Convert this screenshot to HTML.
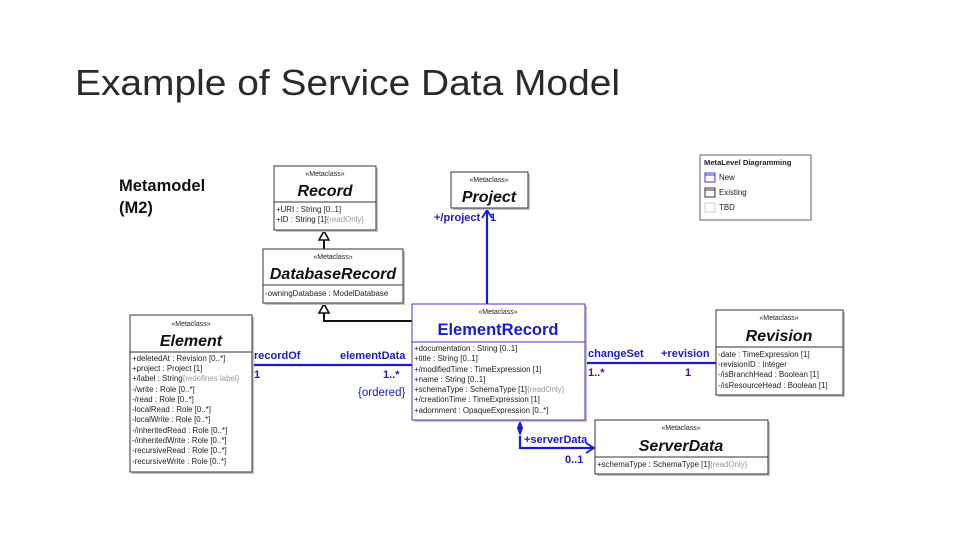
<!DOCTYPE html>
<html><head><meta charset="utf-8"><style>
html,body{margin:0;padding:0;background:#fff;}
svg{display:block;font-family:"Liberation Sans",Arial,sans-serif;}
.st{font-size:7px;text-anchor:middle;fill:#222}
.nm{font-size:16px;font-weight:bold;font-style:italic;text-anchor:middle;fill:#111}
.at{font-size:7.9px;fill:#222}
.g{fill:#999}
.bl{fill:#1a1ad0;font-weight:bold;font-size:11px}
.box{fill:#fff;stroke:#333;stroke-width:1}
.shadow{fill:#c4c4c4}
</style></head><body>
<svg width="960" height="540" viewBox="0 0 960 540">
<text x="75" y="95" font-size="36" textLength="545" lengthAdjust="spacingAndGlyphs" fill="#2a2a2a">Example of Service Data Model</text>

<text x="119" y="191" font-size="16.5" font-weight="bold" fill="#111">Metamodel</text>
<text x="119" y="213" font-size="16.5" font-weight="bold" fill="#111">(M2)</text>

<!-- connectors -->
<line x1="324" y1="240" x2="324" y2="249" stroke="#111" stroke-width="2"/>
<polygon points="324,231 319,240 329,240" fill="#fff" stroke="#111" stroke-width="1.6"/>
<polyline points="324,313 324,321 412,321" fill="none" stroke="#111" stroke-width="2"/>
<polygon points="324,304 319,313 329,313" fill="#fff" stroke="#111" stroke-width="1.6"/>
<line x1="487" y1="304" x2="487" y2="211" stroke="#1a1ad0" stroke-width="2.2"/>
<polyline points="482,218 487,210 492,218" fill="none" stroke="#1a1ad0" stroke-width="1.8"/>
<line x1="252" y1="365" x2="412" y2="365" stroke="#1a1ad0" stroke-width="2.2"/>
<line x1="585" y1="363" x2="716" y2="363" stroke="#1a1ad0" stroke-width="2.2"/>
<polygon points="520,420 523,428 520,436 517,428" fill="#1a1ad0"/>
<polyline points="520,436 520,448 594,448" fill="none" stroke="#1a1ad0" stroke-width="2.2"/>
<polyline points="586,443 594,448 586,453" fill="none" stroke="#1a1ad0" stroke-width="1.8"/>

<text class="bl" x="434" y="221">+/project</text><text class="bl" x="490" y="221">1</text>
<text class="bl" x="254" y="359">recordOf</text>
<text class="bl" x="254" y="378">1</text>
<text class="bl" x="340" y="359">elementData</text>
<text class="bl" x="383" y="378">1..*</text>
<text x="358" y="396" font-size="11.5" fill="#1a1ad0">{ordered}</text>
<text class="bl" x="588" y="357">changeSet</text>
<text class="bl" x="588" y="376">1..*</text>
<text class="bl" x="661" y="357">+revision</text>
<text class="bl" x="685" y="376">1</text>
<text class="bl" x="524" y="443">+serverData</text>
<text class="bl" x="565" y="463">0..1</text>

<!-- Record -->
<rect class="shadow" x="276" y="168" width="102" height="64"/>
<rect class="box" x="274" y="166" width="102" height="64"/>
<line x1="274" y1="202" x2="376" y2="202" stroke="#333"/>
<text class="st" x="325" y="176">«Metaclass»</text>
<text class="nm" x="325" y="196">Record</text>
<text class="at" x="276" y="212">+URI : String [0..1]</text>
<text class="at" x="276" y="222">+ID : String [1]<tspan class="g">{readOnly}</tspan></text>

<!-- Project -->
<rect class="shadow" x="453" y="174" width="77" height="36"/>
<rect class="box" x="451" y="172" width="77" height="36"/>
<text class="st" x="489" y="182">«Metaclass»</text>
<text class="nm" x="489" y="202">Project</text>

<!-- DatabaseRecord -->
<rect class="shadow" x="265" y="251" width="140" height="54"/>
<rect class="box" x="263" y="249" width="140" height="54"/>
<line x1="263" y1="285" x2="403" y2="285" stroke="#333"/>
<text class="st" x="333" y="259">«Metaclass»</text>
<text class="nm" x="333" y="279">DatabaseRecord</text>
<text class="at" x="265" y="296">-owningDatabase : ModelDatabase</text>

<!-- Element -->
<rect class="shadow" x="132" y="317" width="122" height="157"/>
<rect class="box" x="130" y="315" width="122" height="157"/>
<line x1="130" y1="352" x2="252" y2="352" stroke="#333"/>
<text class="st" x="191" y="326">«Metaclass»</text>
<text class="nm" x="191" y="346">Element</text>
<g class="at">
<text x="132" y="361">+deletedAt : Revision [0..*]</text>
<text x="132" y="371">+project : Project [1]</text>
<text x="132" y="381">+/label : String<tspan class="g">{redefines label}</tspan></text>
<text x="132" y="392">-/write : Role [0..*]</text>
<text x="132" y="402">-/read : Role [0..*]</text>
<text x="132" y="412">-localRead : Role [0..*]</text>
<text x="132" y="422">-localWrite : Role [0..*]</text>
<text x="132" y="433">-/inheritedRead : Role [0..*]</text>
<text x="132" y="443">-/inheritedWrite : Role [0..*]</text>
<text x="132" y="453">-recursiveRead : Role [0..*]</text>
<text x="132" y="464">-recursiveWrite : Role [0..*]</text>
</g>

<!-- ElementRecord -->
<rect class="shadow" x="414" y="306" width="173" height="116"/>
<rect x="412" y="304" width="173" height="116" fill="#fff" stroke="#3a3ad0" stroke-width="1"/>
<line x1="412" y1="342" x2="585" y2="342" stroke="#3a3ad0"/>
<text class="st" x="498" y="314">«Metaclass»</text>
<text x="498" y="335" font-size="16.5" font-weight="bold" text-anchor="middle" fill="#1a1ad0">ElementRecord</text>
<g class="at">
<text x="414" y="351">+documentation : String [0..1]</text>
<text x="414" y="361">+title : String [0..1]</text>
<text x="414" y="372">+/modifiedTime : TimeExpression [1]</text>
<text x="414" y="382">+name : String [0..1]</text>
<text x="414" y="392">+schemaType : SchemaType [1]<tspan class="g">{readOnly}</tspan></text>
<text x="414" y="402">+/creationTime : TimeExpression [1]</text>
<text x="414" y="413">+adornment : OpaqueExpression [0..*]</text>
</g>

<!-- Revision -->
<rect class="shadow" x="718" y="312" width="127" height="85"/>
<rect class="box" x="716" y="310" width="127" height="85"/>
<line x1="716" y1="347" x2="843" y2="347" stroke="#333"/>
<text class="st" x="779" y="320">«Metaclass»</text>
<text class="nm" x="779" y="341">Revision</text>
<g class="at">
<text x="718" y="357">-date : TimeExpression [1]</text>
<text x="718" y="367">-revisionID : Integer</text>
<text x="718" y="377">-/isBranchHead : Boolean [1]</text>
<text x="718" y="388">-/isResourceHead : Boolean [1]</text>
</g>

<!-- ServerData -->
<rect class="shadow" x="597" y="422" width="173" height="54"/>
<rect class="box" x="595" y="420" width="173" height="54"/>
<line x1="595" y1="457" x2="768" y2="457" stroke="#333"/>
<text class="st" x="681" y="430">«Metaclass»</text>
<text class="nm" x="681" y="451">ServerData</text>
<text class="at" x="597" y="467">+schemaType : SchemaType [1]<tspan class="g">{readOnly}</tspan></text>

<!-- Legend -->
<rect x="700" y="155" width="111" height="65" fill="#fff" stroke="#666"/>
<text x="704" y="165" font-size="7.6" font-weight="bold" fill="#222">MetaLevel Diagramming</text>
<rect x="705" y="173" width="10" height="9" fill="#fff" stroke="#3a3ad0"/><line x1="705" y1="175" x2="715" y2="175" stroke="#3a3ad0"/>
<text x="719" y="180" class="at">New</text>
<rect x="705" y="188" width="10" height="9" fill="#fff" stroke="#333"/><line x1="705" y1="190" x2="715" y2="190" stroke="#333"/>
<text x="719" y="195" class="at">Existing</text>
<rect x="705" y="203" width="10" height="9" fill="#fff" stroke="#ccc"/>
<text x="719" y="210" class="at">TBD</text>
</svg>
</body></html>
